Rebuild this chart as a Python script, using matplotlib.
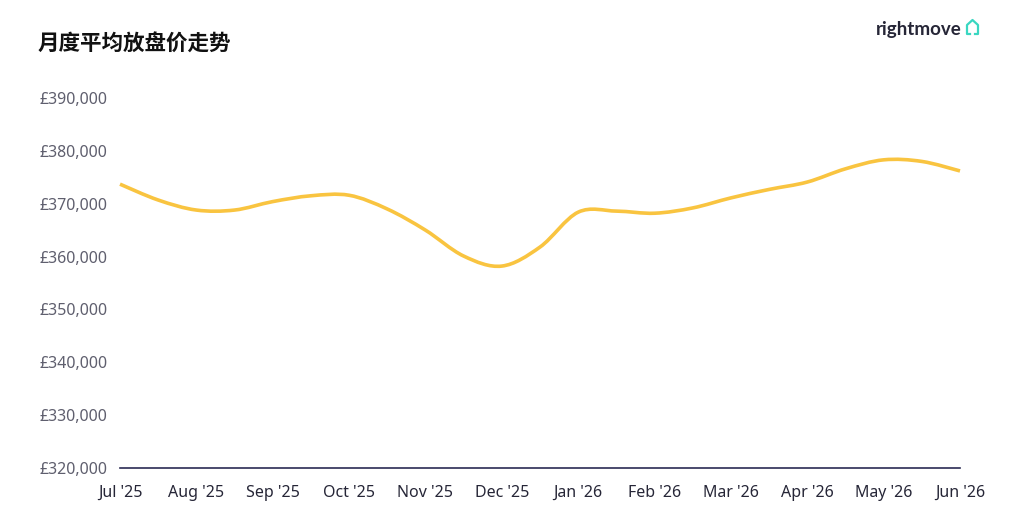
import numpy as np
import matplotlib
matplotlib.use("Agg")
import matplotlib.pyplot as plt
from matplotlib.path import Path
from matplotlib.patches import PathPatch
from matplotlib.lines import Line2D
from matplotlib.ticker import FuncFormatter

# %%
# data: asking price, read off the chart twice a month (in thousands of pounds)
month_labels = ["Jul '25", "Aug '25", "Sep '25", "Oct '25", "Nov '25", "Dec '25",
                "Jan '26", "Feb '26", "Mar '26", "Apr '26", "May '26", "Jun '26"]
half_month = np.arange(23) / 2.0
price_k = [373.7, 370.7, 368.8, 368.8, 370.4, 371.5, 371.6, 369.0, 365.0, 360.1,
           358.2, 361.8, 368.4, 368.6, 368.2, 369.2, 371.1, 372.7, 374.1, 376.6,
           378.3, 378.0, 376.2]
y_ticks = [320, 330, 340, 350, 360, 370, 380, 390]

title = "月度平均放盘价走势"
line_color = "#f9c440"
navy = "#2b2b54"


# %%
# smooth curve through the points (catmull-rom turned into bezier segments)
def smooth_path(x, y):
    x = np.asarray(x, float)
    y = np.asarray(y, float) * 1000
    pts = np.column_stack([x, y])
    ext = np.vstack([pts[0], pts, pts[-1]])
    verts = [pts[0]]
    codes = [Path.MOVETO]
    for i in range(len(pts) - 1):
        p0, p1, p2, p3 = ext[i], ext[i + 1], ext[i + 2], ext[i + 3]
        c1 = p1 + (p2 - p0) / 6
        c2 = p2 - (p3 - p1) / 6
        verts += [c1, c2, p2]
        codes += [Path.CURVE4] * 3
    return Path(verts, codes)


# %%
plt.rcParams['font.family'] = ['Noto Sans', 'Noto Sans CJK SC', 'DejaVu Sans']

fig = plt.figure(figsize=(10.34, 5.26), dpi=100)
ax = fig.add_axes([120 / 1034, 1 - 468 / 526, 840 / 1034, 370 / 526])

ax.add_patch(PathPatch(smooth_path(half_month, price_k), facecolor="none",
                       edgecolor=line_color, lw=2.6, capstyle="butt", clip_on=False))

ax.set_xlim(0, 11)
ax.set_ylim(320000, 390000)
ax.set_xticks(range(len(month_labels)))
ax.set_xticklabels(month_labels)
ax.set_yticks([v * 1000 for v in y_ticks])
ax.yaxis.set_major_formatter(FuncFormatter(lambda v, p: "£{:,.0f}".format(v)))

for s in ["top", "right", "left"]:
    ax.spines[s].set_visible(False)
ax.spines["bottom"].set_color(navy)
ax.spines["bottom"].set_linewidth(1.2)
ax.tick_params(axis="both", length=0)
ax.tick_params(axis="y", pad=9, labelsize=11.5, labelcolor="#5f5f6e")
ax.tick_params(axis="x", pad=12, labelsize=11.5, labelcolor="#262637")

fig.text(38 / 1034, 1 - 44 / 526, title, family=['Noto Sans CJK SC', 'DejaVu Sans'],
         fontsize=15.5, fontweight="heavy", color="#111111", va="center", ha="left")

# logo
fig.text(962 / 1034, 1 - 30 / 526, "rightmove", family=['Lato', 'DejaVu Sans'],
         fontsize=13.5, fontweight="bold", color="#262637", ha="right", va="center")
hx = np.array([967, 967, 972.5, 978, 978, 975]) / 1034
hy = 1 - np.array([34, 25, 20, 25, 34, 34]) / 526
fig.add_artist(Line2D(np.r_[970 / 1034, hx], np.r_[1 - 34 / 526, hy], color="#3ad7c1",
                      lw=1.6, transform=fig.transFigure))

fig.savefig("out.png", dpi=100, facecolor="white")
